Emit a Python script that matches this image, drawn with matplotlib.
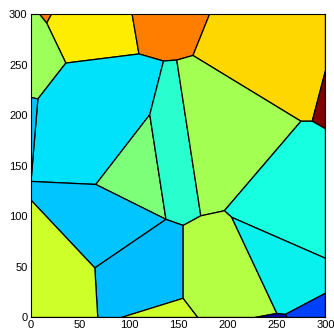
import numpy as np
import matplotlib
matplotlib.use('Agg')
import matplotlib.pyplot as plt
from matplotlib.collections import PolyCollection
from matplotlib.colors import Normalize

# Voronoi vertices (data units)
vertex_names = ['c_tl', 'T1', 'T2', 'A', 'T3', 'T4', 'c_tr', 'Rdr1', 'Vy2', 'Vy1', 'Rdr2',
                'G1', 'O2', 'O3', 'O4', 'B', 'C', 'L1', 'L3', 'E', 'D', 'F', 'L4', 'Gm',
                'Bq1', 'Qr', 'Qb', 'Bs1', 'Bs2', 'Ty1', 'Ty2', 'Tu', 'Tn', 'Bn1', 'Nv',
                'Bn2', 'Ru', 'Rv', 'c_bl', 'c_br']
vertex_x = [0, 8.5, 21, 16, 103, 182, 300, 300, 286.5, 275, 300,
            165, 148.5, 135, 110, 35.5, 7, 0, 0, 66, 121, 137.5, 0, 65,
            68, 155, 155, 92, 170, 173, 197, 204.5, 250.5, 228, 259,
            261, 300, 300, 0, 300]
vertex_y = [300, 300, 300, 291, 300, 300, 300, 244, 194, 194, 186.5,
            259, 254.5, 253.5, 260.5, 251.5, 216, 217.5, 134.5, 131.5, 200.5, 97, 116, 49,
            0, 91, 19, 0, 0, 100.5, 105.5, 99, 4, 0, 3,
            0, 58.5, 24, 0, 0]

# cells as lists of vertex names, with the colour value of each cell
cell_vertices = [
    ['T1', 'T2', 'A'],
    ['T2', 'T3', 'O4', 'B', 'A'],
    ['T3', 'T4', 'G1', 'O2', 'O3', 'O4'],
    ['T4', 'c_tr', 'Rdr1', 'Vy2', 'Vy1', 'G1'],
    ['Rdr1', 'Rdr2', 'Vy2'],
    ['c_tl', 'T1', 'A', 'B', 'C', 'L1'],
    ['B', 'O4', 'O3', 'D', 'E', 'L3', 'C'],
    ['L1', 'C', 'L3'],
    ['D', 'E', 'F'],
    ['O3', 'O2', 'Ty1', 'Qr', 'F', 'D'],
    ['O2', 'G1', 'Vy1', 'Ty2', 'Ty1'],
    ['Vy1', 'Vy2', 'Rdr2', 'Ru', 'Tu', 'Ty2'],
    ['L3', 'E', 'F', 'Gm', 'L4'],
    ['Gm', 'F', 'Qr', 'Qb', 'Bs1', 'Bq1'],
    ['L4', 'Gm', 'Bq1', 'c_bl'],
    ['Bs1', 'Qb', 'Bs2'],
    ['Qr', 'Ty1', 'Ty2', 'Tu', 'Tn', 'Bn1', 'Bs2', 'Qb'],
    ['Tu', 'Ru', 'Rv', 'Nv', 'Tn'],
    ['Nv', 'Rv', 'c_br', 'Bn2'],
    ['Bn1', 'Tn', 'Nv', 'Bn2'],
]
cell_values = [0.775, 0.66, 0.775, 0.68, 1.0, 0.54, 0.345, 0.32, 0.5, 0.40,
               0.55, 0.378, 0.32, 0.31, 0.60, 0.60, 0.57, 0.36, 0.19, 0.04]

ticks = [0, 50, 100, 150, 200, 250, 300]

lookup = {n: (x, y) for n, x, y in zip(vertex_names, vertex_x, vertex_y)}
polys = [np.array([lookup[n] for n in cell]) for cell in cell_vertices]

plt.rcParams['font.family'] = ['Liberation Sans', 'DejaVu Sans']

fig = plt.figure(figsize=(3.34, 3.31), dpi=100)
ax = fig.add_axes([0.0928, 0.0408, 0.8817, 0.9169])

pc = PolyCollection(polys, array=np.array(cell_values), cmap='jet',
                    norm=Normalize(0, 1), edgecolors='black', linewidths=0.9)
ax.add_collection(pc)

ax.set_xlim(0, 300)
ax.set_ylim(0, 300)
ax.set_xticks(ticks)
ax.set_yticks(ticks)
ax.tick_params(axis='both', direction='in', length=0, labelsize=8)
ax.tick_params(axis='x', pad=1.5)
ax.tick_params(axis='y', pad=2.5)
for sp in ax.spines.values():
    sp.set_linewidth(0.8)

fig.savefig('out.png', dpi=100)
